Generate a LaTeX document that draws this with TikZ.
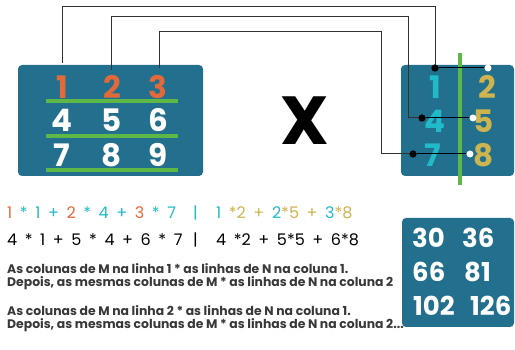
\documentclass[tikz,border=0pt]{standalone}
\usepackage{fontspec}
\setmainfont{Poppins}
\newcommand\eqspa{\fontsize{16}{16}\selectfont\spaceskip=7.6pt\relax}
\definecolor{boxblue}{RGB}{35,112,142}
\definecolor{mgreen}{RGB}{94,184,72}
\definecolor{morange}{RGB}{226,106,58}
\definecolor{mcyan}{RGB}{32,186,200}
\definecolor{mgold}{RGB}{206,180,78}
\definecolor{wire}{RGB}{50,50,50}
\begin{document}
\begin{tikzpicture}[x=1pt,y=-1pt,
  mbox/.style={fill=boxblue,rounded corners=4pt},
  dig/.style={font=\fontsize{31}{31}\selectfont\bfseries,inner sep=0pt,anchor=center},
  res/.style={font=\fontsize{26}{26}\selectfont\bfseries,text=white,inner sep=0pt,anchor=west},
  eq/.style={font=\eqspa,inner sep=0pt,anchor=west},
  note/.style={font=\fontsize{12.4}{13}\selectfont\bfseries,inner sep=0pt,anchor=north west,align=left,text=black!78},
  conn/.style={draw=wire,line width=1pt},
  bdot/.style={circle,fill=black,inner sep=0pt,minimum size=7pt},
  wdot/.style={circle,fill=white,inner sep=0pt,minimum size=7pt},
  gline/.style={draw=mgreen,line width=4pt}]
\useasboundingbox (0,0) rectangle (515,350);
% left matrix
\fill[mbox] (18,65) rectangle (203,176);
\draw[gline] (46,101) -- (178,101);
\draw[gline] (46,136) -- (178,136);
\draw[gline] (46,170) -- (178,170);
\node[dig,text=morange] (m1) at (62,87) {1};
\node[dig,text=morange] (m2) at (112,87) {2};
\node[dig,text=morange] (m3) at (158,87) {3};
\node[dig,text=white] (m4) at (62,120) {4};
\node[dig,text=white] (m5) at (112,120) {5};
\node[dig,text=white] (m6) at (158,120) {6};
\node[dig,text=white] (m7) at (62,155) {7};
\node[dig,text=white] (m8) at (112,155) {8};
\node[dig,text=white] (m9) at (158,155) {9};
% X
\node[font=\fontsize{68}{68}\selectfont\bfseries,inner sep=0pt] (times) at (305,121) {X};
% right matrix
\fill[mbox] (401,65) rectangle (514,176);
\draw[gline] (460,53) -- (460,185);
\node[dig,text=mcyan] (n1) at (435,87) {1};
\node[dig,text=mgold] (n2) at (487,87) {2};
\node[dig,text=mcyan] (n4) at (435,121) {4};
\node[dig,text=mgold] (n5) at (484,121) {5};
\node[dig,text=mcyan] (n7) at (433,155) {7};
\node[dig,text=mgold] (n8) at (484,155) {8};
% connectors
\coordinate (a1) at (62,63);
\coordinate (a2) at (111,70);
\coordinate (a3) at (159,68);
\coordinate (t1) at (0,7);
\coordinate (t2) at (0,17);
\coordinate (t3) at (0,32);
\coordinate (k2) at (408,118);
\coordinate (k3) at (381,154);
\node[bdot] (d1) at (435,68) {};
\node[bdot] (d2) at (422,118) {};
\node[bdot] (d3) at (413,154) {};
\node[wdot] (w1) at (488,68) {};
\node[wdot] (w2) at (473,118) {};
\node[wdot] (w3) at (470,154) {};
\draw[conn] (a1) -- (a1|-t1) -| (d1.center);
\draw[conn] (a2) -- (a2|-t2) -| (k2) -- (d2.center);
\draw[conn] (a3) -- (a3|-t3) -| (k3) -- (d3.center);
\draw[conn,draw=black] (d1) -- (w1);
\draw[conn,draw=black] (d2) -- (w2);
\draw[conn,draw=black] (d3) -- (w3);
\node[bdot] at (d1) {};\node[bdot] at (d2) {};\node[bdot] at (d3) {};
% equations
\node[eq] (e1) at (7,213) {\textcolor{morange}{1}\textcolor{mcyan}{\ * 1 +\ }\textcolor{morange}{2}\textcolor{mcyan}{\ * 4 +\ }\textcolor{morange}{3}\textcolor{mcyan}{\ * 7}};
\node[eq,text=mcyan] (s1) at (193,213) {|};
\node[eq] (f1) at (216,213) {\textcolor{mcyan}{1\ }\textcolor{mgold}{*2 +\ }\textcolor{mcyan}{2}\textcolor{mgold}{*5 +\ }\textcolor{mcyan}{3}\textcolor{mgold}{*8}};
\node[eq] (e2) at (7,240) {4 * 1 + 5 * 4 + 6 * 7};
\node[eq] (s2) at (193,240) {|};
\node[eq] (f2) at (216,240) {4 *2 + 5*5 + 6*8};
% notes
\node[note] (t1n) at (7,263) {As colunas de M na linha 1 * as linhas de N na coluna 1.\\Depois, as mesmas colunas de M * as linhas de N na coluna 2};
\node[note] (t2n) at (7,305) {As colunas de M na linha 2 * as linhas de N na coluna 1.\\Depois, as mesmas colunas de M * as linhas de N na coluna 2...};
% result
\fill[mbox] (402,218) rectangle (514,327);
\node[res] (r1) at (412,238) {30};
\node[res] (r2) at (462,238) {36};
\node[res] (r3) at (412,272) {66};
\node[res] (r4) at (464,272) {81};
\node[res] (r5) at (413,306) {102};
\node[res] (r6) at (470,306) {126};
\end{tikzpicture}
\end{document}
